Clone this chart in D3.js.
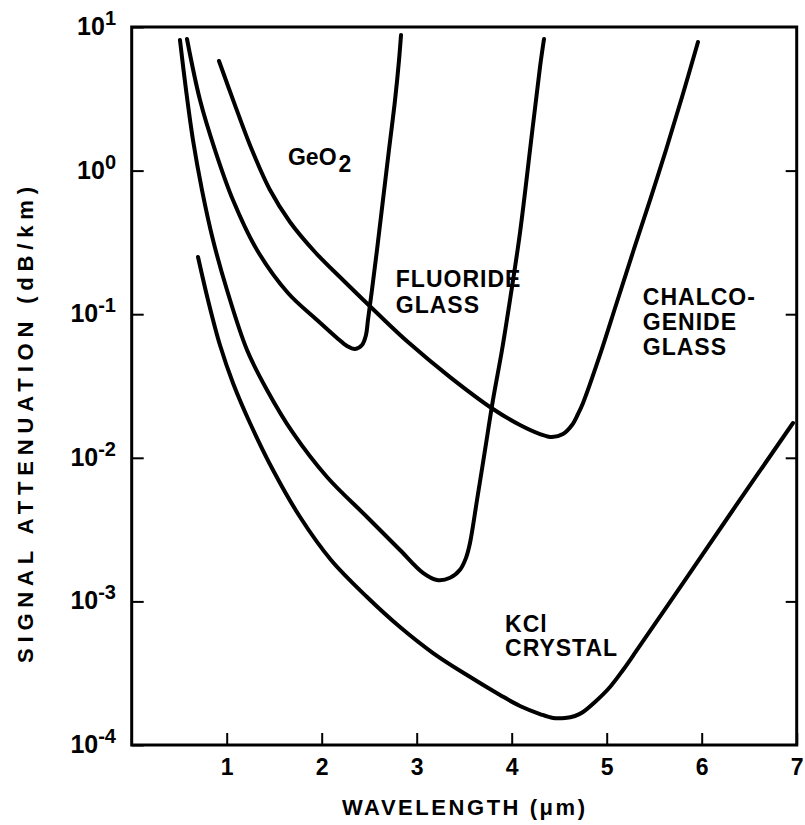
<!DOCTYPE html>
<html>
<head>
<meta charset="utf-8">
<script src="https://cdn.jsdelivr.net/npm/d3@7"></script>
<style>
  body { margin: 0; background: #fff; }
  svg { display: block; }
  text { font-family: "Liberation Sans", Arial, Helvetica, sans-serif; font-weight: bold; fill: #000; }
</style>
</head>
<body>
<svg width="805" height="825"></svg>
<script>
// [wavelength (um), attenuation (dB/km)]
let geo2 = [[0.582, 8.25], [0.719, 3.10], [0.877, 1.391], [1.066, 0.624], [1.319, 0.280], [1.645, 0.1405],
  [1.951, 0.0911], [2.161, 0.0683], [2.266, 0.0601], [2.351, 0.0572], [2.424, 0.0610], [2.466, 0.0716],
  [2.487, 0.0911], [2.529, 0.1474], [2.582, 0.280], [2.645, 0.624], [2.708, 1.391], [2.772, 3.10],
  [2.814, 5.89], [2.835, 8.80]];
let fluoride = [[0.508, 8.12], [0.572, 3.64], [0.645, 1.633], [0.740, 0.732], [0.856, 0.3286], [1.003, 0.1474],
  [1.214, 0.0563], [1.424, 0.0297], [1.698, 0.0149], [2.056, 0.00735], [2.477, 0.00387], [2.824, 0.00228],
  [3.066, 0.00158], [3.214, 0.00141], [3.351, 0.00146], [3.456, 0.00166], [3.519, 0.00201], [3.561, 0.00255],
  [3.635, 0.00508], [3.719, 0.0113], [3.803, 0.0253], [3.898, 0.0563], [3.982, 0.1256], [4.087, 0.368],
  [4.214, 1.83], [4.298, 5.27], [4.340, 8.25]];
let chalco = [[0.919, 5.80], [1.087, 2.86], [1.266, 1.391], [1.456, 0.732], [1.666, 0.4386], [1.929, 0.2711],
  [2.245, 0.1676], [2.593, 0.1003], [2.908, 0.0640], [3.351, 0.0365], [3.803, 0.02187], [4.087, 0.01692],
  [4.298, 0.01464], [4.424, 0.01396], [4.540, 0.01464], [4.635, 0.01692], [4.698, 0.02018], [4.751, 0.02407],
  [4.929, 0.0520], [5.098, 0.1159], [5.277, 0.2711], [5.456, 0.624], [5.624, 1.391], [5.793, 3.254],
  [5.961, 7.86]];
let kcl = [[0.698, 0.2502], [0.803, 0.1256], [0.929, 0.0610], [1.066, 0.0332], [1.245, 0.01747], [1.487, 0.00822],
  [1.772, 0.00387], [2.098, 0.001943], [2.477, 0.001073], [2.824, 0.000663], [3.172, 0.000437], [3.529, 0.000307],
  [3.877, 0.000223], [4.087, 0.000187], [4.298, 0.0001643], [4.435, 0.0001542], [4.561, 0.0001542],
  [4.666, 0.0001592], [4.751, 0.0001698], [4.877, 0.0001993], [5.035, 0.0002535], [5.172, 0.000333],
  [5.319, 0.000459], [5.803, 0.001343], [6.329, 0.00433], [6.961, 0.01747]];

let xTicks = [1, 2, 3, 4, 5, 6, 7];
let yExps = [1, 0, -1, -2, -3, -4];

// curve labels, anchored at wavelength / attenuation of first baseline
let labels = [
  { lines: ["GeO", "2"], sub: true, at: [1.645, 1.09] },
  { lines: ["FLUORIDE", "GLASS"], at: [2.78, 0.155], step: 26 },
  { lines: ["CHALCO-", "GENIDE", "GLASS"], at: [5.38, 0.116], step: 25 },
  { lines: ["KCl", "CRYSTAL"], at: [3.93, 0.00061], step: 24 }
];

let mLeft = 131.7, mRight = 796.7, mTop = 27, mBottom = 745;

let svg = d3.select("svg");

let x = d3.scaleLinear().domain([0, 7]).range([mLeft, mRight]);
let y = d3.scaleLog().domain([1e-4, 10]).range([mBottom, mTop]);

// 坐标轴刻度
let gx = svg.append("g")
  .attr("transform", `translate(0,${mBottom})`)
  .call(d3.axisBottom(x).tickValues(xTicks).tickSizeInner(-12).tickSizeOuter(0).tickPadding(14)
    .tickFormat(d3.format("d")));
gx.select(".domain").remove();
gx.selectAll("line").attr("stroke", "#000").attr("stroke-width", 2);
gx.selectAll("text").attr("font-size", 23).attr("font-family", null);

let gy = svg.append("g")
  .attr("transform", `translate(${mLeft},0)`)
  .call(d3.axisLeft(y).tickValues(yExps.map(e => Math.pow(10, e))).tickSizeInner(-12).tickSizeOuter(0)
    .tickFormat(""));
gy.select(".domain").remove();
gy.selectAll("line").attr("stroke", "#000").attr("stroke-width", 2);

let gr = svg.append("g")
  .attr("transform", `translate(${mRight},0)`)
  .call(d3.axisRight(y).tickValues([1, 0.1, 0.01, 0.001]).tickSizeInner(-11).tickSizeOuter(0)
    .tickFormat(""));
gr.select(".domain").remove();
gr.selectAll("line").attr("stroke", "#000").attr("stroke-width", 2);

// 10^n labels
let yl = svg.append("g").selectAll("text")
  .data(yExps)
  .join("text")
  .attr("text-anchor", "end")
  .attr("x", 116)
  .attr("y", d => y(Math.pow(10, d)) + 8);
yl.append("tspan").attr("font-size", 25).text("10");
yl.append("tspan").attr("font-size", 20).attr("dy", -10).text(d => d < 0 ? "-" + (-d) : d);

// frame
svg.append("rect")
  .attr("x", mLeft).attr("y", mTop)
  .attr("width", mRight - mLeft).attr("height", mBottom - mTop)
  .attr("fill", "none").attr("stroke", "#000").attr("stroke-width", 3);

// curves
let line = d3.line()
  .x(d => x(d[0]))
  .y(d => y(d[1]))
  .curve(d3.curveCatmullRom.alpha(0.5));

svg.append("g").selectAll("path")
  .data([geo2, fluoride, chalco, kcl])
  .join("path")
  .attr("d", line)
  .attr("fill", "none")
  .attr("stroke", "#000")
  .attr("stroke-width", 4)
  .attr("stroke-linecap", "round")
  .attr("stroke-linejoin", "round");

// curve labels
labels.forEach(function (l) {
  let t = svg.append("text")
    .attr("x", x(l.at[0]))
    .attr("y", y(l.at[1]))
    .attr("font-size", 23)
    .attr("letter-spacing", 1);
  if (l.sub) {
    t.attr("letter-spacing", 0);
    t.append("tspan").text(l.lines[0]);
    t.append("tspan").attr("dx", 2).attr("dy", 7).text(l.lines[1]);
  } else {
    l.lines.forEach(function (s, i) {
      t.append("tspan").attr("x", x(l.at[0])).attr("dy", i == 0 ? 0 : l.step).text(s);
    });
  }
});

// axis titles
svg.append("text")
  .attr("x", 342).attr("y", 815)
  .attr("font-size", 22)
  .attr("textLength", 243)
  .attr("lengthAdjust", "spacing")
  .text("WAVELENGTH (\u03bcm)");

svg.append("text")
  .attr("transform", "translate(33,663) rotate(-90)")
  .attr("font-size", 22)
  .attr("textLength", 476)
  .attr("lengthAdjust", "spacing")
  .text("SIGNAL ATTENUATION (dB/km)");
</script>
</body>
</html>
